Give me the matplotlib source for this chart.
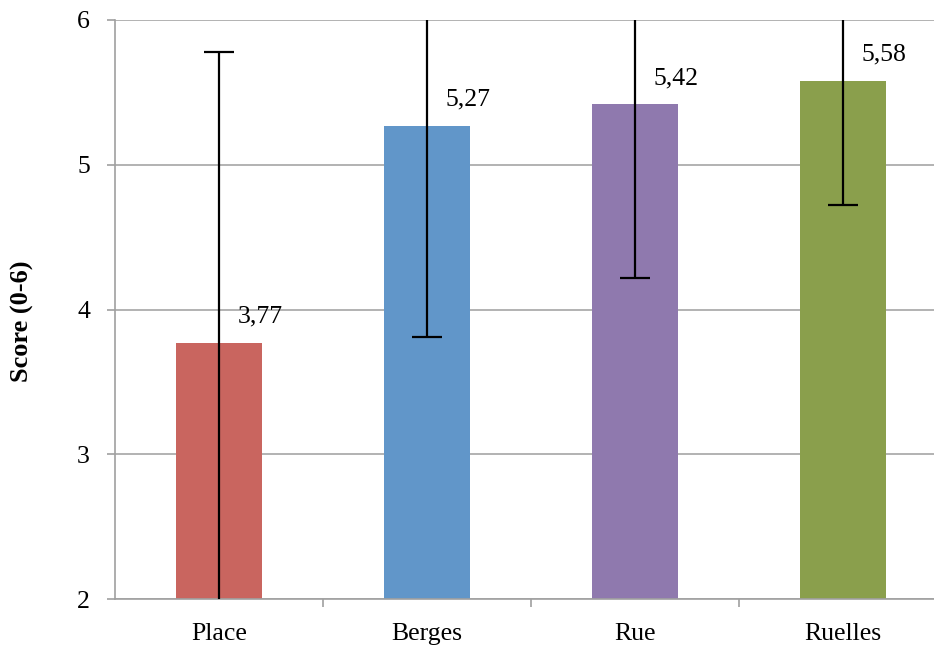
import matplotlib
matplotlib.use("Agg")
from matplotlib import pyplot as plt

categories = ["Place", "Berges", "Rue", "Ruelles"]
scores = [3.77, 5.27, 5.42, 5.58]
errors = [2.01, 1.46, 1.20, 0.86]
labels = ["3,77", "5,27", "5,42", "5,58"]
colors = ["#c9655f", "#6196c9", "#8f79ae", "#8a9f4c"]

plt.rcParams["font.family"] = ["Liberation Serif", "DejaVu Serif"]
plt.rcParams["font.size"] = 18.5

fig = plt.figure(figsize=(9.34, 6.46), dpi=100)
ax = fig.add_axes([115 / 934, 47 / 646, 832 / 934, 579 / 646])

x = list(range(len(categories)))
ax.bar(x, scores, width=0.41, color=colors, zorder=2)
ax.errorbar(x, scores, yerr=errors, fmt="none", ecolor="black",
            elinewidth=1.6, capsize=11, capthick=1.6, zorder=3)

for xi, s, lab in zip(x, scores, labels):
    ax.annotate(lab, (xi, s), xytext=(41, 20), textcoords="offset pixels",
                ha="center", va="baseline", zorder=4)

ax.set_xlim(-0.5, 3.5)
ax.set_ylim(2, 6)
ax.set_yticks([2, 3, 4, 5, 6])
ax.set_xticks(x)
ax.set_xticklabels(categories)
ax.set_xticks([0.5, 1.5, 2.5], minor=True)
ax.tick_params(axis="x", which="major", length=0, pad=17)
ax.tick_params(axis="x", which="minor", length=6, color="#a0a0a0", width=1.2)
ax.tick_params(axis="y", length=6, color="#a0a0a0", width=1.2, pad=12)

ax.yaxis.grid(True, color="#a6a6a6", linewidth=1.2, zorder=0)
ax.set_axisbelow(True)
for side in ["top", "right"]:
    ax.spines[side].set_visible(False)
for side in ["left", "bottom"]:
    ax.spines[side].set_color("#a0a0a0")
    ax.spines[side].set_linewidth(1.2)

ax.set_ylabel("Score (0-6)", fontweight="bold", fontsize=19)
ax.yaxis.set_label_coords(-0.0974, 0.479)

fig.savefig("out.png", dpi=100)
